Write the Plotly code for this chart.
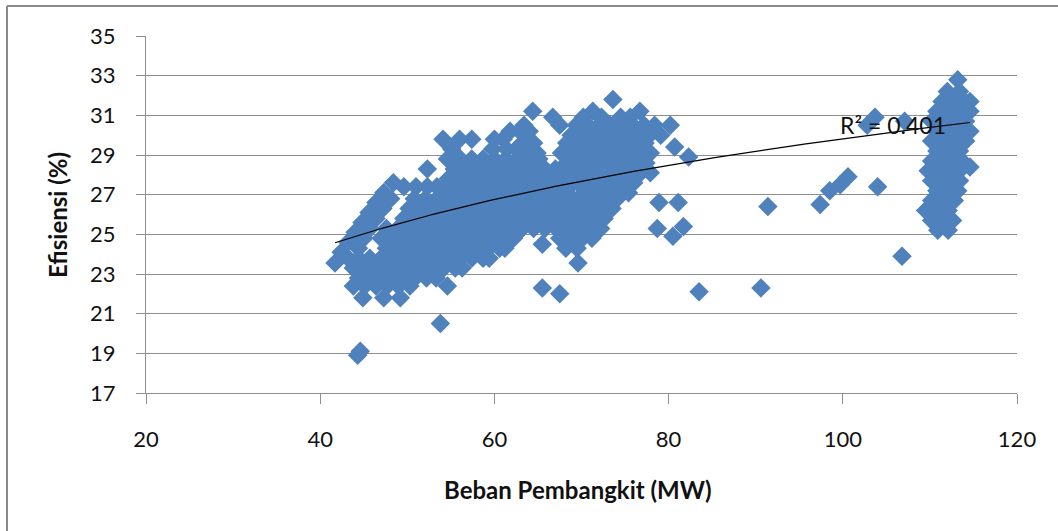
import numpy as np
import plotly.graph_objects as go

# ---- Data (efficiency level, [loads at that level]) ----
main_upper_rows = [
    (31.8, [73.6]),
    (31.2, [64.4, 71.3, 76.7]),
    (30.9, [66.7, 70.2, 72.3, 74.5, 75.6]),
    (30.5, [63.4, 67.5, 69.4, 70.7, 72.0, 73.3, 74.6, 75.9, 77.2, 78.4, 80.2]),
    (30.2, [61.8, 62.9, 64.0]),
    (30.0, [68.8, 70.1, 71.4, 72.7, 74.0, 75.3, 76.6, 77.8, 79.1]),
    (29.8, [54.1, 56.0, 57.4, 60.0, 61.0]),
    (29.6, [63.2, 64.5, 68.3, 69.6, 70.9, 72.2, 73.5, 74.8, 76.1, 77.3]),
    (29.3, [55.1, 59.8, 61.4, 62.5]),
    (29.1, [63.7, 64.9, 67.7, 69.0, 70.3, 71.6, 72.9, 74.2, 75.5, 76.8, 77.9]),
    (28.8, [54.6, 56.1, 57.4, 58.7, 60.0, 61.3, 62.6, 63.9, 65.1]),
    (28.6, [68.3, 69.6, 70.9, 72.2, 73.5, 74.8, 76.1, 77.4]),
    (28.3, [52.3, 55.4, 56.7, 58.0, 59.3, 60.6, 61.9, 63.2, 64.5, 65.8, 67.0, 68.1]),
    (28.1, [69.0, 70.3, 71.6, 72.9, 74.2, 75.5, 76.8, 77.9]),
    (27.8, [54.7, 56.0, 57.3, 58.6, 59.9, 61.2, 62.5, 63.8, 65.1, 66.4, 67.7, 68.6]),
    (27.6, [48.4, 69.6, 70.9, 72.2, 73.5, 74.8, 76.0]),
    (27.4, [49.6, 51.0, 52.3, 53.4]),
    (27.3, [54.1, 55.4, 56.7, 58.0, 59.3, 60.6, 61.9, 63.2, 64.5, 65.8, 67.1, 68.4]),
    (27.1, [47.3, 70.3, 71.6, 72.9, 74.2, 75.4]),
]

main_lower_rows = [
    (26.8, [48.1, 50.8, 52.1, 53.4, 54.7, 56.0, 57.3, 58.6, 59.9, 61.2, 62.5, 63.8,
            65.1, 66.4, 67.7, 69.0, 70.3, 71.6, 72.9, 74.1]),
    (26.6, [46.4]),
    (26.3, [47.2, 50.2, 51.5, 52.8, 54.1, 55.4, 56.7, 58.0, 59.3, 60.6, 61.9, 63.2,
            64.5, 65.8, 67.1, 68.4, 69.7, 71.0, 72.3, 73.5]),
    (26.1, [45.6]),
    (25.8, [46.4, 49.6, 50.9, 52.2, 53.5, 54.8, 56.1, 57.4, 58.7, 60.0, 61.3, 62.6,
            63.9, 65.2, 66.5, 67.8, 69.1, 70.4, 71.6, 72.6]),
    (25.6, [44.8]),
    (25.3, [45.7, 47.6, 48.9, 50.2, 51.5, 52.8, 54.1, 55.4, 56.7, 58.0, 59.3, 60.6,
            61.9, 63.2, 64.5, 65.8, 67.1, 68.4, 69.7, 71.0, 72.2]),
    (25.1, [44.0]),
    (24.8, [45.0, 47.0, 48.3, 49.6, 50.9, 52.2, 53.5, 54.8, 56.1, 57.4, 58.7, 60.0,
            61.3, 62.2, 67.5, 68.8, 70.1, 71.2]),
    (24.6, [43.2]),
    (24.3, [44.4, 47.6, 48.9, 50.2, 51.5, 52.8, 54.1, 55.4, 56.7, 58.0, 59.3, 60.6,
            61.2, 68.2, 69.5]),
    (24.1, [42.4]),
    (23.8, [43.2, 44.4, 45.7, 47.0, 48.3, 49.6, 50.9, 52.2, 53.5, 54.8, 56.1, 57.4,
            58.7, 59.4]),
    (23.55, [41.7]),
    (23.3, [43.8, 45.1, 46.4, 47.7, 49.0, 50.3, 51.6, 52.9, 54.2, 55.5, 56.3]),
    (22.8, [44.4, 45.7, 47.0, 48.3, 49.6, 50.9, 52.2, 53.3]),
    (22.4, [43.8, 45.1, 46.4, 47.7, 49.0, 50.3, 54.6]),
    (21.8, [44.9, 47.3, 49.2]),
]

right_rows = [
    (32.8, [113.2]),
    (32.2, [112.0, 113.4]),
    (31.7, [111.4, 112.7, 114.0, 114.6]),
    (31.2, [110.8, 112.1, 113.4, 114.6]),
    (30.7, [110.2, 111.5, 112.8, 114.1]),
    (30.2, [110.8, 112.1, 113.4, 114.6]),
    (29.7, [110.2, 111.5, 112.8, 114.1]),
    (29.2, [110.8, 112.1, 113.4]),
    (28.7, [110.2, 111.5, 112.8, 113.7]),
    (28.4, [114.6]),
    (28.2, [109.8, 110.8, 112.1, 113.4]),
    (27.7, [110.2, 111.5, 112.8, 113.4]),
    (27.2, [110.8, 112.1, 113.2]),
    (26.7, [110.2, 111.5, 112.8]),
    (26.2, [109.5, 110.8, 112.1]),
    (25.7, [110.2, 111.5, 112.6]),
    (25.2, [110.9, 112.1]),
]

outlier_load = [44.3, 44.6, 53.8, 65.5, 67.5, 69.6, 65.5, 78.9, 81.1, 78.7, 80.5, 81.7,
                82.3, 80.7, 83.5, 90.6, 91.4, 97.4, 98.5, 99.7, 100.6, 104.0, 106.8,
                103.7, 102.8, 107.1]
outlier_eff = [18.9, 19.1, 20.5, 22.3, 22.0, 23.55, 24.5, 26.6, 26.6, 25.3, 24.9, 25.4,
               28.9, 29.4, 22.1, 22.3, 26.4, 26.5, 27.2, 27.5, 27.9, 27.4, 23.9,
               30.9, 30.5, 30.7]

# logarithmic trendline y = a*ln(x) + b, coefficients
trend_coef = [6.0, 2.19]

x_ticks = [20, 40, 60, 80, 100, 120]
y_ticks = [17, 19, 21, 23, 25, 27, 29, 31, 33, 35]
r2_label = "R² = 0.401"

# ---- assemble points ----
load, eff = [], []
for rows in (main_upper_rows, main_lower_rows, right_rows):
    for yv, xs in rows:
        load.extend(xs)
        eff.extend([yv] * len(xs))
load.extend(outlier_load)
eff.extend(outlier_eff)
load = np.array(load)
eff = np.array(eff)

xt = np.linspace(load.min(), load.max(), 200)
yt = trend_coef[0] * np.log(xt) + trend_coef[1]

FONT = "Lato"
GRID = "#8e8e8e"
TXT = "#111111"

fig = go.Figure()
fig.add_trace(go.Scatter(
    x=load, y=eff, mode="markers",
    marker=dict(symbol="diamond", size=15, color="#4F81BD", line=dict(width=0)),
    showlegend=False, hoverinfo="x+y"))
fig.add_trace(go.Scatter(
    x=xt, y=yt, mode="lines", line=dict(color="black", width=1.2),
    showlegend=False, hoverinfo="skip"))

fig.update_layout(
    width=1058, height=531,
    margin=dict(l=146, r=41, t=36, b=138),
    paper_bgcolor="white", plot_bgcolor="white",
    font=dict(family=FONT, size=22, color=TXT),
    xaxis=dict(range=[20, 120], tickvals=x_ticks, showgrid=False, zeroline=False,
               showline=True, linecolor=GRID, linewidth=1.3,
               ticks="outside", ticklen=10, tickcolor=GRID, tickwidth=1.3,
               ticklabelstandoff=16, tickfont=dict(family=FONT, size=22, color=TXT)),
    yaxis=dict(range=[17, 35], tickvals=y_ticks, showgrid=True, gridcolor=GRID, gridwidth=1.3,
               zeroline=False, showline=True, linecolor=GRID, linewidth=1.3,
               ticks="outside", ticklen=9, tickcolor=GRID, tickwidth=1.3,
               ticklabelstandoff=16, tickfont=dict(family=FONT, size=22, color=TXT)),
    annotations=[
        dict(text="<b>Efisiensi (%)</b>", xref="paper", yref="paper", x=-0.101, y=0.4986,
             textangle=-90, showarrow=False, font=dict(family=FONT, size=24, color=TXT),
             xanchor="center", yanchor="middle"),
        dict(text="<b>Beban Pembangkit (MW)</b>", xref="paper", yref="paper", x=0.496, y=-0.2717,
             showarrow=False, font=dict(family=FONT, size=24, color=TXT),
             xanchor="center", yanchor="middle"),
        dict(text=r2_label, xref="x", yref="y", x=99.45, y=30.5, showarrow=False,
             xanchor="left", yanchor="middle", font=dict(family=FONT, size=23, color=TXT)),
    ],
    shapes=[
        dict(type="line", xref="paper", yref="paper", x0=-0.1596, x1=-0.1596, y0=-0.5, y1=1.084,
             line=dict(color="#8a8a8a", width=2)),
        dict(type="line", xref="paper", yref="paper", x0=-0.1596, x1=1.2, y0=1.084, y1=1.084,
             line=dict(color="#8a8a8a", width=2)),
    ],
)

fig.write_html("out.html", config={"displayModeBar": False},
               post_script="document.body.style.margin='0';")
